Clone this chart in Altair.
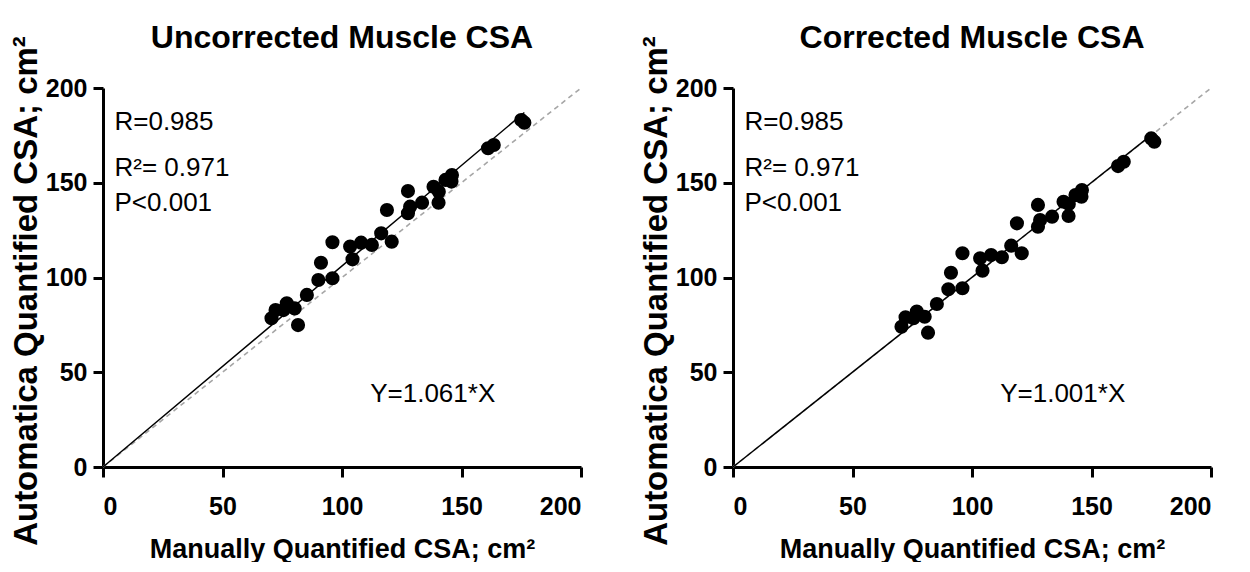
import altair as alt
import pandas as pd

# ---- data ----
manual = [70.5, 72.2, 76.9, 75.5, 80.2, 81.6, 85.3, 90.1, 91.2, 96.0, 96.0,
          103.4, 104.4, 108.0, 112.5, 116.4, 120.8, 118.8, 127.6, 128.5, 127.6,
          133.5, 138.3, 140.4, 140.5, 143.3, 146.0, 145.8, 161.1, 163.5, 175.0, 176.3]
auto_uncorrected = [78.5, 82.8, 86.4, 82.8, 83.7, 74.9, 90.8, 98.7, 107.8, 99.6, 118.6,
                    116.3, 109.6, 118.4, 117.2, 123.3, 118.9, 135.6, 133.9, 137.4, 145.6,
                    139.5, 147.9, 139.5, 145.3, 151.5, 154.1, 150.6, 168.2, 169.9, 183.1, 181.7]
auto_corrected = [74.0, 79.0, 82.0, 78.5, 79.3, 70.9, 86.0, 93.8, 102.5, 94.3, 112.8,
                  110.1, 103.6, 111.9, 110.7, 116.8, 112.8, 128.6, 126.8, 130.3, 138.3,
                  132.1, 140.0, 132.5, 138.8, 143.5, 146.2, 142.6, 158.8, 161.1, 173.4, 171.7]

titles = ["Uncorrected Muscle CSA", "Corrected Muscle CSA"]
slopes = [1.061, 1.001]
fit_labels = ["Y=1.061*X", "Y=1.001*X"]
stat_labels = ["R=0.985", "R²= 0.971", "P<0.001"]
stat_y = [182.2, 157.6, 139.2]
stat_x = 4.8
fit_label_pos = (111.8, 38.5)

axis_ticks = [0, 50, 100, 150, 200]
identity = [0, 200]

FONT = "Liberation Sans, Arial, Helvetica, sans-serif"

W, H = 478, 379


def panel(title, yvals, slope, fit_label):
    pts = pd.DataFrame({"x": manual, "y": yvals})
    xs = alt.X("x:Q", scale=alt.Scale(domain=[0, 200], nice=False),
               axis=alt.Axis(values=axis_ticks, title="Manually Quantified CSA; cm²",
                             titleFont=FONT, titleFontSize=27, titleFontWeight="bold",
                             titlePadding=17, labelFont=FONT, labelFontSize=25,
                             labelFontWeight="bold", labelPadding=17))
    ys = alt.Y("y:Q", scale=alt.Scale(domain=[0, 200], nice=False),
               axis=alt.Axis(values=axis_ticks, title="Automatica Quantified CSA; cm²",
                             titleFont=FONT, titleFontSize=33, titleFontWeight="bold",
                             titlePadding=2, titleY=H / 2 + 13, labelFont=FONT, labelFontSize=25,
                             labelFontWeight="bold", labelPadding=6))

    ident = alt.Chart(pd.DataFrame({"x": identity, "y": identity})).mark_line(
        color="#a6a6a6", strokeDash=[5, 4], strokeWidth=1.6).encode(x=xs, y=ys)
    xmax = max(manual)
    fit = alt.Chart(pd.DataFrame({"x": [0, xmax], "y": [0, slope * xmax]})).mark_line(
        color="black", strokeWidth=1.5).encode(x="x:Q", y="y:Q")
    dots = alt.Chart(pts).mark_point(filled=True, shape="circle", size=200,
                                     color="black", opacity=1).encode(x="x:Q", y="y:Q")
    stats = alt.Chart(pd.DataFrame({"x": [stat_x] * 3, "y": stat_y, "t": stat_labels})).mark_text(
        align="left", baseline="middle", font=FONT, fontSize=26, color="black").encode(
        x="x:Q", y="y:Q", text="t:N")
    fl = alt.Chart(pd.DataFrame({"x": [fit_label_pos[0]], "y": [fit_label_pos[1]], "t": [fit_label]})).mark_text(
        align="left", baseline="middle", font=FONT, fontSize=26, color="black").encode(
        x="x:Q", y="y:Q", text="t:N")
    return alt.layer(ident, fit, dots, stats, fl).properties(
        width=W, height=H,
        title=alt.TitleParams(title, font=FONT, fontSize=32, fontWeight="bold",
                              anchor="middle", frame="group", offset=-19, color="black"))


left = panel(titles[0], auto_uncorrected, slopes[0], fit_labels[0])
right = panel(titles[1], auto_corrected, slopes[1], fit_labels[1])

chart = alt.hconcat(left, right, spacing=55).configure_view(stroke=None).configure_axis(
    grid=False, domainColor="black", domainWidth=3, tickColor="black", tickWidth=3,
    tickSize=10, labelColor="black", titleColor="black").properties(
    padding={"left": 2, "top": 13, "right": 5, "bottom": 0}, background="white")

chart.save("out.html", embed_options={"renderer": "svg", "actions": False})
